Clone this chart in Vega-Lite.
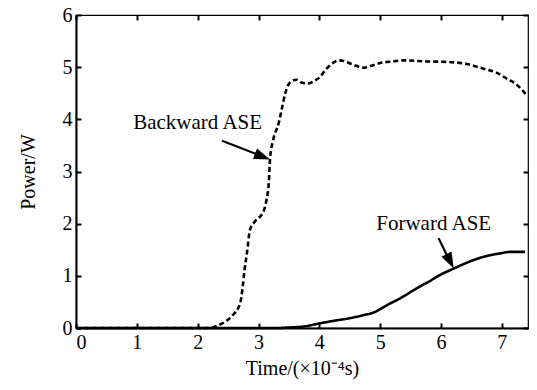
{
  "$schema": "https://vega.github.io/schema/vega-lite/v6.json",
  "width": 452,
  "height": 313,
  "autosize": {"type": "none"},
  "padding": {"left": 76, "top": 15, "right": 9, "bottom": 62},
  "background": "white",
  "config": {
    "font": "Liberation Serif",
    "view": {"stroke": "black", "strokeWidth": 1.2},
    "axis": {"grid": false, "labelFont": "Liberation Serif", "titleFont": "Liberation Serif", "labelFontSize": 20, "titleFontSize": 20, "titleFontWeight": "normal", "labelColor": "black", "titleColor": "black", "domainColor": "black", "tickColor": "black", "domainWidth": 2, "tickWidth": 2, "tickSize": -5}
  },
  "datasets": {
    "curves": [
      {"t": 0, "p": 0, "s": "Backward"},
      {"t": 2.2, "p": 0, "s": "Backward"},
      {"t": 2.31, "p": 0.04, "s": "Backward"},
      {"t": 2.45, "p": 0.12, "s": "Backward"},
      {"t": 2.58, "p": 0.25, "s": "Backward"},
      {"t": 2.7, "p": 0.48, "s": "Backward"},
      {"t": 2.74, "p": 0.79, "s": "Backward"},
      {"t": 2.77, "p": 1.11, "s": "Backward"},
      {"t": 2.81, "p": 1.44, "s": "Backward"},
      {"t": 2.86, "p": 1.88, "s": "Backward"},
      {"t": 2.94, "p": 2.04, "s": "Backward"},
      {"t": 3.08, "p": 2.23, "s": "Backward"},
      {"t": 3.13, "p": 2.45, "s": "Backward"},
      {"t": 3.17, "p": 2.8, "s": "Backward"},
      {"t": 3.19, "p": 3.25, "s": "Backward"},
      {"t": 3.24, "p": 3.6, "s": "Backward"},
      {"t": 3.33, "p": 3.92, "s": "Backward"},
      {"t": 3.38, "p": 4.18, "s": "Backward"},
      {"t": 3.44, "p": 4.5, "s": "Backward"},
      {"t": 3.49, "p": 4.66, "s": "Backward"},
      {"t": 3.56, "p": 4.74, "s": "Backward"},
      {"t": 3.63, "p": 4.76, "s": "Backward"},
      {"t": 3.72, "p": 4.7, "s": "Backward"},
      {"t": 3.82, "p": 4.69, "s": "Backward"},
      {"t": 3.92, "p": 4.74, "s": "Backward"},
      {"t": 4.01, "p": 4.81, "s": "Backward"},
      {"t": 4.1, "p": 4.95, "s": "Backward"},
      {"t": 4.18, "p": 5.04, "s": "Backward"},
      {"t": 4.25, "p": 5.1, "s": "Backward"},
      {"t": 4.31, "p": 5.13, "s": "Backward"},
      {"t": 4.4, "p": 5.12, "s": "Backward"},
      {"t": 4.55, "p": 5.05, "s": "Backward"},
      {"t": 4.73, "p": 4.99, "s": "Backward"},
      {"t": 4.87, "p": 5.03, "s": "Backward"},
      {"t": 5.0, "p": 5.08, "s": "Backward"},
      {"t": 5.2, "p": 5.11, "s": "Backward"},
      {"t": 5.4, "p": 5.13, "s": "Backward"},
      {"t": 5.77, "p": 5.11, "s": "Backward"},
      {"t": 6.1, "p": 5.1, "s": "Backward"},
      {"t": 6.43, "p": 5.06, "s": "Backward"},
      {"t": 6.7, "p": 4.97, "s": "Backward"},
      {"t": 6.92, "p": 4.89, "s": "Backward"},
      {"t": 7.08, "p": 4.78, "s": "Backward"},
      {"t": 7.25, "p": 4.66, "s": "Backward"},
      {"t": 7.41, "p": 4.46, "s": "Backward"},
      {"t": 0, "p": 0, "s": "Forward"},
      {"t": 3.3, "p": 0.0, "s": "Forward"},
      {"t": 3.5, "p": 0.01, "s": "Forward"},
      {"t": 3.75, "p": 0.03, "s": "Forward"},
      {"t": 4.01, "p": 0.09, "s": "Forward"},
      {"t": 4.25, "p": 0.14, "s": "Forward"},
      {"t": 4.51, "p": 0.19, "s": "Forward"},
      {"t": 4.7, "p": 0.24, "s": "Forward"},
      {"t": 4.92, "p": 0.31, "s": "Forward"},
      {"t": 5.1, "p": 0.43, "s": "Forward"},
      {"t": 5.33, "p": 0.57, "s": "Forward"},
      {"t": 5.6, "p": 0.76, "s": "Forward"},
      {"t": 5.8, "p": 0.89, "s": "Forward"},
      {"t": 5.99, "p": 1.02, "s": "Forward"},
      {"t": 6.21, "p": 1.14, "s": "Forward"},
      {"t": 6.53, "p": 1.3, "s": "Forward"},
      {"t": 6.75, "p": 1.38, "s": "Forward"},
      {"t": 6.97, "p": 1.43, "s": "Forward"},
      {"t": 7.14, "p": 1.46, "s": "Forward"},
      {"t": 7.38, "p": 1.46, "s": "Forward"}
    ],
    "labels": [
      {"t": 2.0, "p": 3.93, "label": "Backward ASE"},
      {"t": 5.88, "p": 2.0, "label": "Forward ASE"}
    ],
    "arrows": [
      {"t": 2.4, "p": 3.59, "t2": 3.0, "p2": 3.32, "tt": 3.19, "pt": 3.23, "ang": 21},
      {"t": 5.96, "p": 1.72, "t2": 6.12, "p2": 1.34, "tt": 6.21, "pt": 1.14, "ang": 63}
    ]
  },
  "resolve": {"axis": {"x": "independent", "y": "independent"}},
  "layer": [
    {
      "data": {"name": "curves"},
      "mark": {"type": "line", "color": "black", "strokeWidth": 2.6, "interpolate": "monotone"},
      "encoding": {
        "x": {"field": "t", "type": "quantitative", "scale": {"domain": [0, 7.43], "nice": false, "zero": false}, "axis": {"values": [0, 1, 2, 3, 4, 5, 6, 7], "title": "Time/(×10⁻⁴s)", "labelPadding": 9, "titlePadding": 6, "orient": "bottom"}},
        "y": {"field": "p", "type": "quantitative", "scale": {"domain": [0, 6], "nice": false}, "axis": {"values": [0, 1, 2, 3, 4, 5, 6], "title": "Power/W", "labelPadding": 9, "titlePadding": 24, "orient": "left"}},
        "strokeDash": {"field": "s", "type": "nominal", "scale": {"domain": ["Backward", "Forward"], "range": [[5, 3], [1, 0]]}, "legend": null},
        "detail": {"field": "s"}
      }
    },
    {
      "data": {"name": "labels"},
      "mark": {"type": "text", "font": "Liberation Serif", "fontSize": 21, "color": "black"},
      "encoding": {
        "x": {"field": "t", "type": "quantitative", "axis": {"orient": "top", "values": [0, 1, 2, 3, 4, 5, 6, 7], "labels": false, "title": null, "domain": false}},
        "y": {"field": "p", "type": "quantitative", "axis": {"orient": "right", "values": [0, 1, 2, 3, 4, 5, 6], "labels": false, "title": null, "domain": false}},
        "text": {"field": "label"}
      }
    },
    {
      "data": {"name": "arrows"},
      "mark": {"type": "rule", "color": "black", "strokeWidth": 2.2},
      "encoding": {
        "x": {"field": "t", "type": "quantitative", "axis": null},
        "y": {"field": "p", "type": "quantitative", "axis": null},
        "x2": {"field": "t2"},
        "y2": {"field": "p2"}
      }
    },
    {
      "data": {"name": "arrows"},
      "mark": {"type": "point", "filled": true, "color": "black", "opacity": 1, "shape": "M0,0L-2,-0.7L-2,0.7Z", "size": 260},
      "encoding": {
        "x": {"field": "tt", "type": "quantitative", "axis": null},
        "y": {"field": "pt", "type": "quantitative", "axis": null},
        "angle": {"field": "ang", "type": "quantitative", "scale": null}
      }
    }
  ]
}
